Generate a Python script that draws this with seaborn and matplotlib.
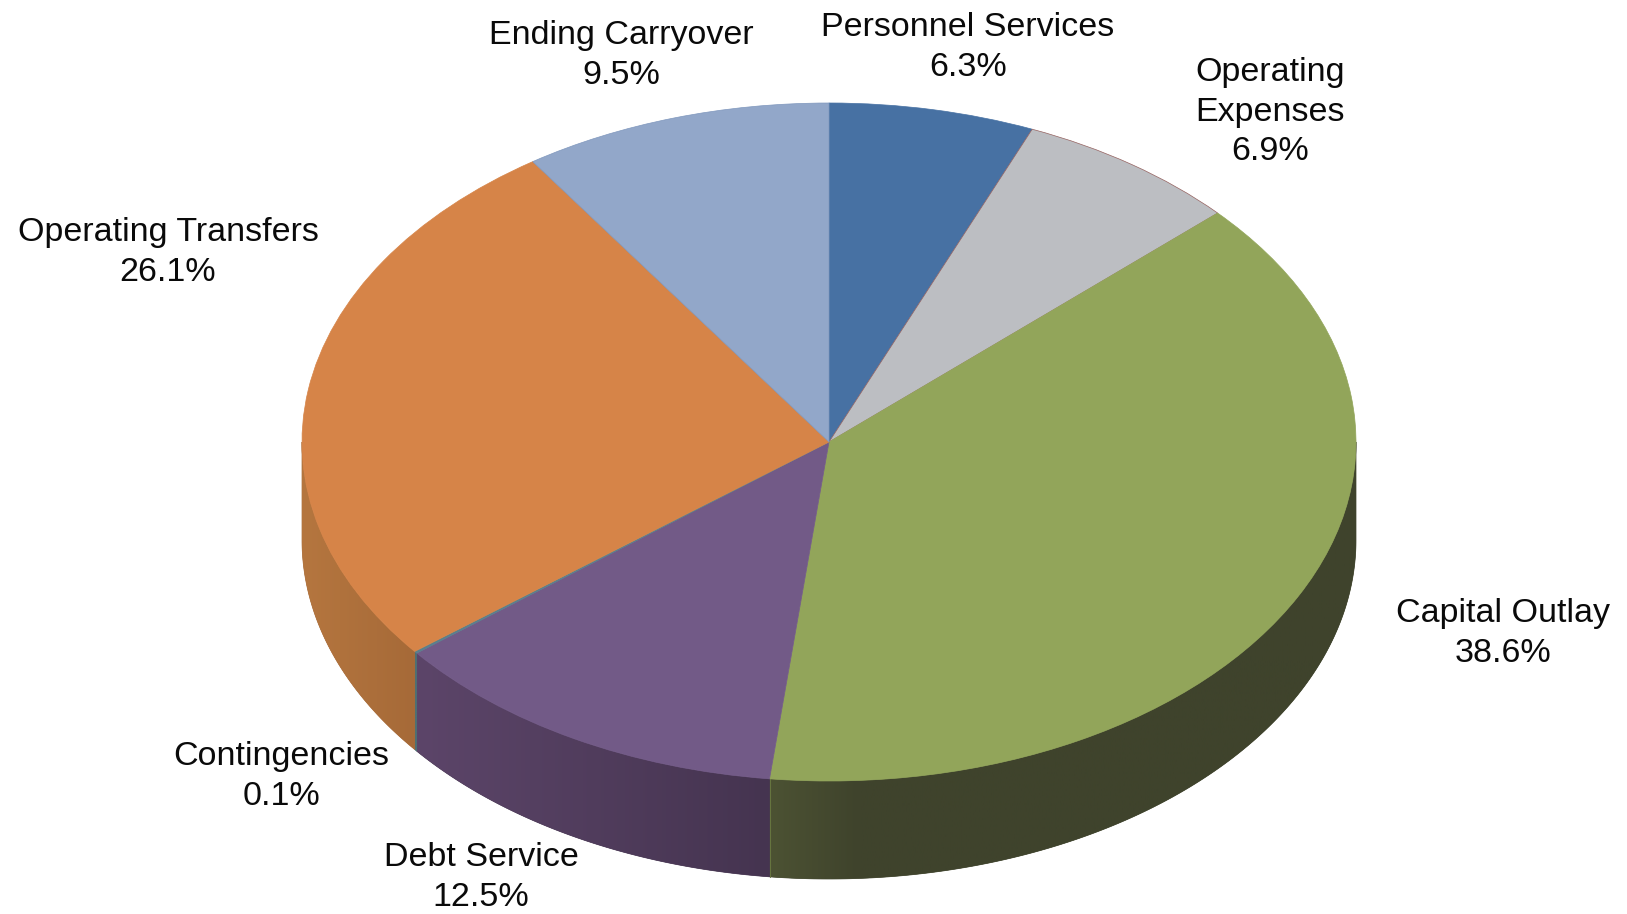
import numpy as np
import matplotlib
matplotlib.use("Agg")
import matplotlib.pyplot as plt
from matplotlib.colors import LinearSegmentedColormap
import seaborn as sns

# data, clockwise from the top of the pie
names = ['Personnel Services', 'Operating\nExpenses', 'Capital Outlay', 'Debt Service',
         'Contingencies', 'Operating Transfers', 'Ending Carryover']
shares = [6.3, 6.9, 38.6, 12.5, 0.1, 26.1, 9.5]
top_colors = ['#4771a3', '#bcbec2', '#92a55a', '#725a87', '#5a7f8c', '#d68448', '#92a7c9']
edge_colors = ['#4771a3', '#94615f', '#92a55a', '#725a87', '#5a7f8c', '#d68448', '#7f97bd']
side_left = ['#35547a', '#8c8e91', '#4c5233', '#5c4569', '#4f6f72', '#b5763f', '#6d7d96']
side_right = ['#35547a', '#8c8e91', '#3f432c', '#453450', '#4f6f72', '#a66a38', '#6d7d96']
side_ramp = [1, 1, 0.15, 1, 1, 1, 1]

# layout in pixels of the 1627x914 picture
W, H = 1627, 914
cx, cy = 829, 442
rx, ry = 527, 339
depth = 98 / ry
label_px = [(968, 12), (1270, 57), (1503, 598), (481, 842), (281, 741), (168, 217), (621, 20)]
label_size = 24.5

sns.set_theme(style='white')
plt.rcParams['font.family'] = ['Liberation Sans', 'DejaVu Sans']

fig = plt.figure(figsize=(W / 100, H / 100), dpi=100, facecolor='white')
ax = fig.add_axes([0, 0, 1, 1])

palette = sns.color_palette(top_colors)
wedges, _ = ax.pie(shares, colors=palette, startangle=90, counterclock=False, radius=1,
                   wedgeprops={'linewidth': 0.5, 'zorder': 5})
for w, e in zip(wedges, edge_colors):
    w.set_edgecolor(e)

# side wall, only the part at the front of the disc is seen
ends = np.cumsum(shares) / 100 * 2 * np.pi
starts = ends - np.array(shares) / 100 * 2 * np.pi
for i in range(len(shares)):
    a = max(starts[i], np.pi / 2)
    b = min(ends[i], 3 * np.pi / 2)
    if b <= a:
        continue
    th = np.linspace(a, b, 200)
    xs, ys = np.sin(th), np.cos(th)
    outline = ax.fill(np.r_[xs, xs[::-1]], np.r_[ys, ys[::-1] - depth], color=side_right[i],
                      linewidth=0.5, zorder=2)[0]
    cmap = LinearSegmentedColormap.from_list('wall', [side_left[i], side_right[i]])
    ramp = np.clip(np.linspace(0, 1, 256) / side_ramp[i], 0, 1)[None, :]
    im = ax.imshow(ramp, cmap=cmap, vmin=0, vmax=1, aspect='auto', zorder=3,
                   extent=(xs.min(), xs.max(), ys.min() - depth, ys.max()))
    im.set_clip_path(outline)

# seam at the front where capital outlay meets debt service
ax.plot([np.sin(ends[2])] * 2, [np.cos(ends[2]), np.cos(ends[2]) - depth], color='#66743f',
        linewidth=0.8, zorder=4)

# stretch the round pie to the flat ellipse of the tilted disc
ax.set_aspect('auto')
ax.set_xlim(-cx / rx, (W - cx) / rx)
ax.set_ylim((cy - H) / ry, cy / ry)
ax.axis('off')

for name, v, (px, py) in zip(names, shares, label_px):
    ax.text(px / W, 1 - py / H, f'{name}\n{v}%', transform=fig.transFigure, ha='center', va='top',
            fontsize=label_size, color='#0a0a0a', linespacing=1.36)

fig.savefig('out.png', dpi=100)
